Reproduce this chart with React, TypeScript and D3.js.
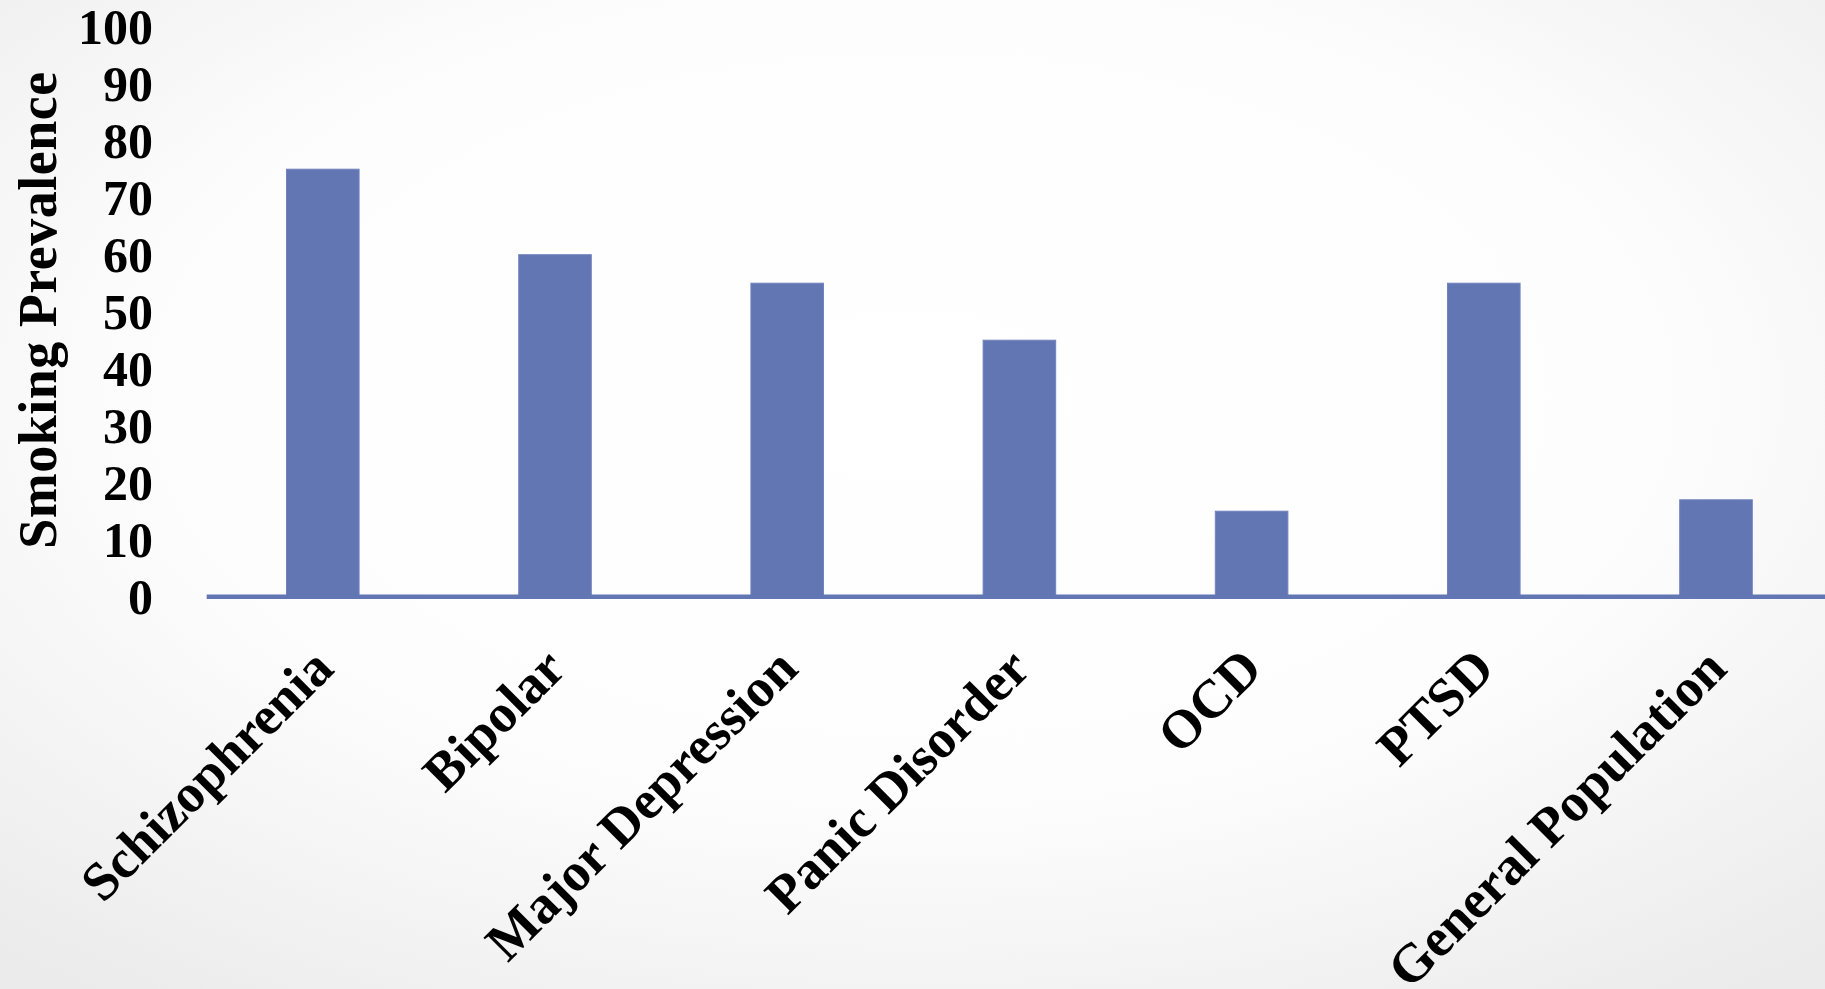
import React from "react";
import * as d3 from "d3";

// Smoking prevalence (%) by psychiatric condition
const categories = [
  "Schizophrenia",
  "Bipolar",
  "Major Depression",
  "Panic Disorder",
  "OCD",
  "PTSD",
  "General Population",
];
const prevalence = [75, 60, 55, 45, 15, 55, 17];
const yTicks = [0, 10, 20, 30, 40, 50, 60, 70, 80, 90, 100];
const yTitle = "Smoking Prevalence";

const W = 1825;
const H = 989;
const BAR = "#6176b3";
const FONT = "'Liberation Serif', 'Times New Roman', serif";

export default function App() {
  const plotLeft = 206.7;
  const step = 232.2;
  const x = d3
    .scaleBand<string>()
    .domain(categories)
    .range([plotLeft, plotLeft + step * categories.length])
    .paddingInner(0.6875)
    .paddingOuter(0.34375);
  const y = d3.scaleLinear().domain([0, 100]).range([596.7, 26.7]);

  const tickFs = 50;
  const labelFs = 54;

  return (
    <div style={{ position: "fixed", left: 0, top: 0, width: W, height: H }}>
      <svg width={W} height={H} style={{ display: "block" }}>
        <defs>
          <radialGradient id="bg" cx="50%" cy="40%" r="75%">
            <stop offset="0%" stopColor="#ffffff" />
            <stop offset="55%" stopColor="#fdfdfd" />
            <stop offset="100%" stopColor="#ebebeb" />
          </radialGradient>
        </defs>
        <rect x={0} y={0} width={W} height={H} fill="url(#bg)" />

        {/* bars */}
        {categories.map((c, i) => (
          <rect
            key={c}
            x={x(c)}
            y={y(prevalence[i])}
            width={x.bandwidth()}
            height={y(0) - y(prevalence[i])}
            fill={BAR}
            stroke="#7183bd"
            strokeWidth={1}
          />
        ))}

        {/* category axis line */}
        <line
          x1={plotLeft}
          x2={W + 10}
          y1={y(0)}
          y2={y(0)}
          stroke={BAR}
          strokeWidth={4.5}
        />

        {/* value axis labels */}
        {yTicks.map((t) => (
          <text
            key={t}
            x={153}
            y={y(t) + 0.338 * tickFs}
            textAnchor="end"
            fontFamily={FONT}
            fontWeight="bold"
            fontSize={tickFs}
            fill="#000"
          >
            {t}
          </text>
        ))}

        {/* value axis title */}
        <text
          transform={`translate(56, 310) rotate(-90)`}
          textAnchor="middle"
          fontFamily={FONT}
          fontWeight="bold"
          fontSize={labelFs}
          letterSpacing={0.5}
          fill="#000"
        >
          {yTitle}
        </text>

        {/* category labels */}
        {categories.map((c) => {
          const cx = (x(c) as number) + x.bandwidth() / 2 + 13;
          const cy = y(0) + 74.5;
          return (
            <text
              key={c}
              transform={`translate(${cx}, ${cy}) rotate(-45)`}
              textAnchor="end"
              fontFamily={FONT}
              fontWeight="bold"
              fontSize={labelFs}
              fill="#000"
            >
              {c}
            </text>
          );
        })}
      </svg>
    </div>
  );
}
